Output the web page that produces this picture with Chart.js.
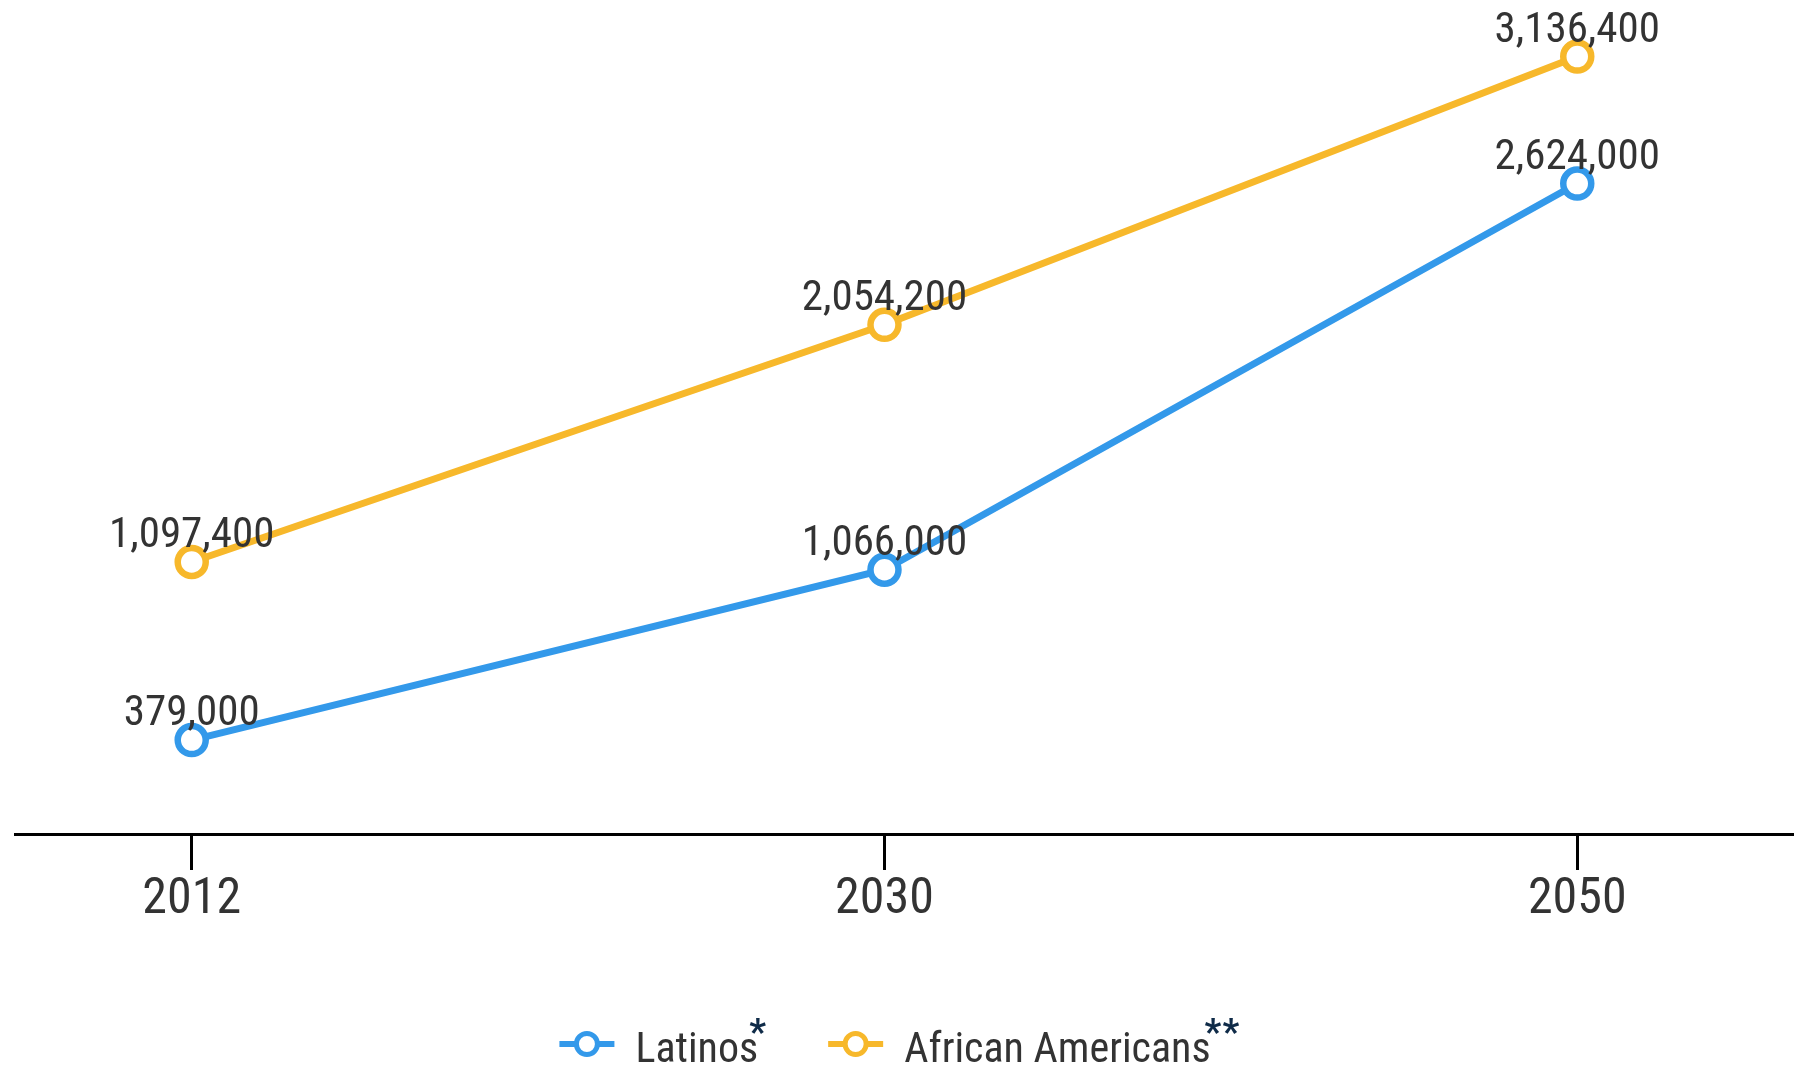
<!DOCTYPE html>
<html>
<head>
<meta charset="utf-8">
<script src="https://cdn.jsdelivr.net/npm/chart.js@4.4.1/dist/chart.umd.min.js"></script>
<style>
	html, body { margin: 0; padding: 0; background: #fff; }
	canvas { display: block; }
</style>
</head>
<body>
<canvas id="popChart" width="1805" height="1070"></canvas>
<script>
// Data
const years = ["2012", "2030", "2050"];
const latinos = [379000, 1066000, 2624000];
const africanAmericans = [1097400, 2054200, 3136400];
const seriesNames = ["Latinos", "African Americans"];
const seriesNotes = ["*", "**"];

const FONT = "'Roboto Condensed', 'Liberation Sans Narrow', 'DejaVu Sans Condensed', Roboto, sans-serif";
const TEXT_COLOR = "#333333";
const NOTE_COLOR = "#0f2b48";
const BLUE = "#3399ea";
const YELLOW = "#f7b82b";

// Value labels above each point
const valueLabels = {
	id: "valueLabels",
	afterDatasetsDraw: function (chart) {
		const ctx = chart.ctx;
		ctx.save();
		ctx.font = "43px " + FONT;
		ctx.fillStyle = TEXT_COLOR;
		ctx.textAlign = "center";
		ctx.textBaseline = "alphabetic";
		chart.data.datasets.forEach((ds, di) => {
			const meta = chart.getDatasetMeta(di);
			meta.data.forEach((pt, i) => {
				ctx.fillText(ds.data[i].y.toLocaleString("en-US"), pt.x, pt.y - 15);
			});
		});
		ctx.restore();
	},
};

// Legend: line + open circle, label, superscript note
const lineLegend = {
	id: "lineLegend",
	afterDraw: function (chart) {
		const ctx = chart.ctx;
		const iconW = 55;
		const gap = 21;
		const spacing = 63;
		const starStep = 18;
		const cy = 1044;
		ctx.save();
		const items = chart.data.datasets.map((ds, i) => {
			ctx.font = "42px " + FONT;
			const tw = ctx.measureText(ds.label).width;
			const n = seriesNotes[i].length;
			return { ds: ds, tw: tw, n: n, w: iconW + gap + tw - 6 + n * starStep - 5 };
		});
		const total = items.reduce((a, it) => a + it.w, 0) + spacing * (items.length - 1);
		let x = (chart.width - total) / 2 - 5;
		items.forEach((it, i) => {
			const color = it.ds.borderColor;
			// line
			ctx.strokeStyle = color;
			ctx.lineWidth = 6;
			ctx.beginPath();
			ctx.moveTo(x, cy);
			ctx.lineTo(x + iconW, cy);
			ctx.stroke();
			// circle
			ctx.beginPath();
			ctx.arc(x + iconW / 2, cy, 10.5, 0, Math.PI * 2);
			ctx.fillStyle = "#fff";
			ctx.fill();
			ctx.lineWidth = 5;
			ctx.stroke();
			// text
			ctx.font = "42px " + FONT;
			ctx.fillStyle = TEXT_COLOR;
			ctx.textAlign = "left";
			ctx.textBaseline = "alphabetic";
			const tx = x + iconW + gap;
			ctx.fillText(it.ds.label, tx, 1062);
			// note asterisks
			ctx.font = "bold 37px " + FONT;
			ctx.fillStyle = NOTE_COLOR;
			const starX = tx + it.tw - (i === 0 ? 9 : 6);
			for (let k = 0; k < it.n; k++) {
				ctx.fillText("*", starX + k * starStep, 1044);
			}
			x += it.w + spacing;
		});
		ctx.restore();
	},
};

function makeDataset(label, values, color) {
	return {
		label: label,
		data: values.map((v, i) => ({ x: i, y: v })),
		borderColor: color,
		backgroundColor: color,
		borderWidth: 7,
		pointRadius: 14,
		pointHoverRadius: 14,
		pointBorderWidth: 6.5,
		pointBackgroundColor: "#fff",
		pointBorderColor: color,
		tension: 0,
		fill: false,
	};
}

const popChart = new Chart(document.getElementById("popChart").getContext("2d"), {
	type: "line",
	data: {
		datasets: [
			makeDataset(seriesNames[0], latinos, BLUE),
			makeDataset(seriesNames[1], africanAmericans, YELLOW),
		],
	},
	options: {
		responsive: false,
		animation: false,
		layout: {
			autoPadding: false,
			padding: { top: 16, left: 15, right: 13, bottom: 140 },
		},
		scales: {
			x: {
				type: "linear",
				min: -0.2551,
				max: 2.31,
				afterBuildTicks: function (scale) {
					scale.ticks = years.map((y, i) => ({ value: i }));
				},
				afterFit: function (scale) {
					// tick labels sit well inside the axis, no extra side padding needed
					scale.paddingLeft = 0;
					scale.paddingRight = 0;
				},
				ticks: {
					callback: function (value) {
						return years[value];
					},
					color: TEXT_COLOR,
					font: { family: FONT, size: 50 },
					padding: 0,
					maxRotation: 0,
				},
				grid: {
					drawOnChartArea: false,
					drawTicks: true,
					tickLength: 36,
					lineWidth: 3,
					color: "#000",
				},
				border: { display: true, color: "#000", width: 3 },
			},
			y: {
				display: false,
				min: 0,
				max: 3300000,
			},
		},
		plugins: {
			legend: { display: false },
			tooltip: { enabled: false },
		},
	},
	plugins: [valueLabels, lineLegend],
});
</script>
</body>
</html>
